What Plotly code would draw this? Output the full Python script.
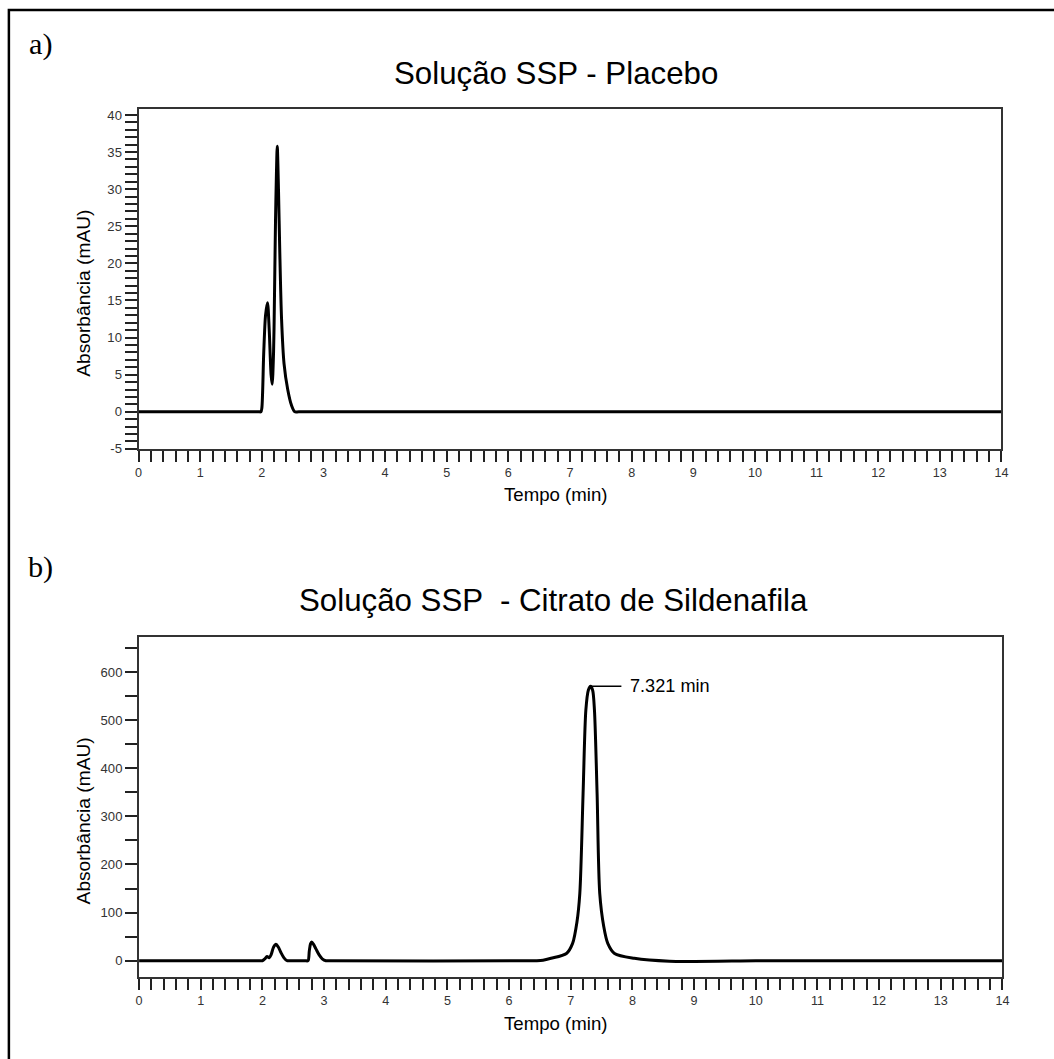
import plotly.graph_objects as go

W, H = 1054, 1059

# ---- data ----
# a) Solução SSP - Placebo
time_a = [0.0, 1.90, 1.95, 1.985, 2.00, 2.03, 2.06, 2.092, 2.12, 2.15, 2.168, 2.19, 2.20,
          2.222, 2.238, 2.25, 2.27, 2.29, 2.32, 2.36, 2.42, 2.48, 2.535, 2.60, 14.0]
abs_a = [0.0, 0.0, 0.0, 0.0, 0.5, 7.8, 13.0, 14.7, 11.0, 5.0, 3.7, 8.0, 12.3,
         25.8, 32.6, 35.8, 30.0, 22.0, 12.5, 6.5, 3.0, 0.9, 0.0, 0.0, 0.0]

# b) Solução SSP - Citrato de Sildenafila
time_b = [0.0, 1.90, 1.96, 2.00, 2.04, 2.075, 2.11, 2.14, 2.18, 2.22, 2.26, 2.30, 2.35,
          2.40, 2.45, 2.69, 2.74, 2.76, 2.78, 2.80, 2.83, 2.87, 2.92, 2.97, 3.03,
          3.08, 6.45, 6.55, 6.68, 6.93, 7.03, 7.10, 7.147, 7.20, 7.245, 7.285, 7.321,
          7.355, 7.384, 7.427, 7.47, 7.535, 7.60, 7.71, 8.03, 8.60, 10.0, 10.5, 14.0]
abs_b = [0, 0, 0, 0, 4, 9, 6, 12, 28, 34, 28, 17, 6,
         0, 0, 0, 0, 20, 35, 39, 34, 24, 12, 4, 0,
         0, 0, 1, 5, 15, 36, 80, 140, 348, 521, 562, 570,
         562, 521, 348, 140, 71, 36, 15, 5, -1, 0, 0, 0]

# tick labels
ticks_a = [-5, 0, 5, 10, 15, 20, 25, 30, 35, 40]
ticks_a_text = ["-5", "0", "5", "10", "15", "20", "25", "30", "35", "40"]
ticks_b = [0, 100, 200, 300, 400, 500, 600]
ticks_x = list(range(0, 15))

title_a = "Solução SSP - Placebo"
title_b = "Solução SSP  - Citrato de Sildenafila"
x_title = "Tempo (min)"
y_title = "Absorbância (mAU)"
peak_label = "7.321 min"

FONT = "Liberation Sans, Arial, sans-serif"

# the page comes out slightly scaled/offset in the capture; compensate
S, OFFX, OFFY = 0.992, 2.1, 0.9

def px_x(x):
    return (x - OFFX) / S / W

def px_y(y):
    return 1 - (y - OFFY) / S / H

def fs(v):
    return v / S

fig = go.Figure()
fig.add_trace(go.Scatter(x=time_a, y=abs_a, mode="lines", xaxis="x", yaxis="y",
                         line=dict(color="black", width=3, shape="spline", smoothing=0.8),
                         showlegend=False, hoverinfo="skip"))
fig.add_trace(go.Scatter(x=time_b, y=abs_b, mode="lines", xaxis="x2", yaxis="y2",
                         line=dict(color="black", width=3, shape="spline", smoothing=0.8),
                         showlegend=False, hoverinfo="skip"))

xtickfont = dict(family=FONT, size=fs(12.5), color="#333")
ytickfont = dict(family=FONT, size=fs(13), color="#333")

def xax(domain, anchor):
    return dict(domain=domain, anchor=anchor, range=[0, 14],
                tickmode="array", tickvals=ticks_x,
                ticks="outside", ticklen=11, tickwidth=1.5, tickcolor="#222",
                minor=dict(dtick=0.2, tick0=0, ticks="outside", ticklen=11, tickwidth=1.5,
                           tickcolor="#222"),
                showline=True, mirror=True, linecolor="#333", linewidth=2,
                showgrid=False, zeroline=False, tickfont=xtickfont)

def yax(domain, anchor, rng, tv, tt, mdt):
    return dict(domain=domain, anchor=anchor, range=rng,
                tickmode="array", tickvals=tv, ticktext=tt,
                ticks="outside", ticklen=12, tickwidth=1.5, tickcolor="#222",
                minor=dict(dtick=mdt, tick0=0, ticks="outside", ticklen=12, tickwidth=1.5,
                           tickcolor="#222"),
                showline=True, mirror=True, linecolor="#333", linewidth=2,
                showgrid=False, zeroline=False, tickfont=ytickfont)

fig.update_layout(
    width=W, height=H, margin=dict(l=0, r=0, t=0, b=0),
    paper_bgcolor="white", plot_bgcolor="white",
    xaxis=xax([px_x(137), px_x(1002)], "y"),
    yaxis=yax([px_y(449), px_y(109)], "x", [-5, 40.8], ticks_a, ticks_a_text, 1),
    xaxis2=xax([px_x(137.5), px_x(1003)], "y2"),
    yaxis2=yax([px_y(977), px_y(637)], "x2", [-33, 673], ticks_b,
               [str(v) for v in ticks_b], 50),
)

ann = []
def text(x, y, s, size, family=FONT, angle=0, xanchor="center", color="black"):
    ann.append(dict(x=px_x(x), y=px_y(y), xref="paper", yref="paper", text=s,
                    showarrow=False, textangle=angle, xanchor=xanchor, yanchor="middle",
                    font=dict(family=family, size=fs(size), color=color)))

text(555, 73, title_a, 31)
text(553, 601, title_b, 31)
text(39, 44, "a)", 30, family="Liberation Serif, serif")
text(39, 567, "b)", 30, family="Liberation Serif, serif")
text(82, 293, y_title, 19, angle=-90)
text(82, 821, y_title, 19, angle=-90)
text(555, 495, x_title, 18.5)
text(555, 1024, x_title, 18.5)

# peak label for main peak
i_max = abs_b.index(max(abs_b))
pk_t, pk_a = time_b[i_max], abs_b[i_max]
ann.append(dict(x=pk_t + 0.6, y=pk_a, xref="x2", yref="y2", text=peak_label,
                showarrow=False, xanchor="left", yanchor="middle",
                font=dict(family=FONT, size=fs(18), color="black")))
fig.update_layout(annotations=ann)

fig.add_shape(type="line", xref="x2", yref="y2", x0=pk_t, x1=pk_t + 0.5,
              y0=pk_a, y1=pk_a, line=dict(color="black", width=1.5))
# outer frame (right/bottom edges fall outside the page)
fig.add_shape(type="rect", xref="paper", yref="paper", x0=px_x(7), y0=px_y(1080),
              x1=px_x(1080), y1=px_y(10), line=dict(color="black", width=2.5),
              fillcolor="rgba(0,0,0,0)", layer="above")

fig.write_html("out.html",
               config={"displayModeBar": False},
               post_script=("document.documentElement.style.margin='0';"
                            "document.documentElement.style.overflow='hidden';"
                            "document.body.style.margin='0';"
                            "document.body.style.overflow='hidden';"))
